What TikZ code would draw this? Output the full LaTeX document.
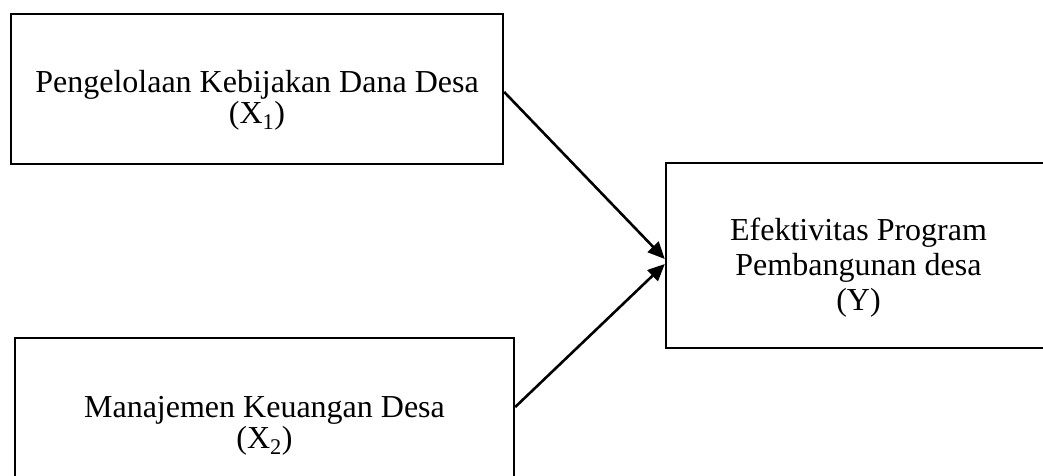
\documentclass[tikz,border=0pt]{standalone}
\usepackage{fontspec}
\setmainfont{Liberation Serif}
\usetikzlibrary{arrows.meta}
\begin{document}
\begin{tikzpicture}[x=1pt,y=-1pt,
  box/.style={draw=black,line width=2.4pt,rectangle,inner sep=0pt},
  lbl/.style={align=center,anchor=base,inner sep=0pt},
  conn/.style={draw=black,line width=2.6pt,-{Triangle[length=17pt,width=15pt]}}]
\useasboundingbox (0,0) rectangle (1043,475);
\clip (0,0) rectangle (1043,475);
\node[box,minimum width=492pt,minimum height=150pt] (b1) at (257,89) {};
\node[box,minimum width=499pt,minimum height=160pt] (b2) at (264.5,418) {};
\node[box,minimum width=385pt,minimum height=185pt] (b3) at (858.5,255.5) {};
\node[lbl,font=\fontsize{32}{31}\selectfont] (t1) at (257,123) {Pengelolaan Kebijakan Dana Desa\\(X\textsubscript{1})};
\node[lbl,font=\fontsize{32}{31}\selectfont] (t2) at (264.5,448) {Manajemen Keuangan Desa\\(X\textsubscript{2})};
\node[lbl,font=\fontsize{32}{35}\selectfont] (t3) at (858.5,310) {Efektivitas Program\\Pembangunan desa\\(Y)};
\coordinate (s1) at (b1.east |- 0,92);
\coordinate (s2) at (b2.east |- 0,407);
\coordinate (e1) at (b3.west |- 0,259);
\coordinate (e2) at (b3.west |- 0,264);
\draw[conn] (s1) -- (e1);
\draw[conn] (s2) -- (e2);
\end{tikzpicture}
\end{document}
